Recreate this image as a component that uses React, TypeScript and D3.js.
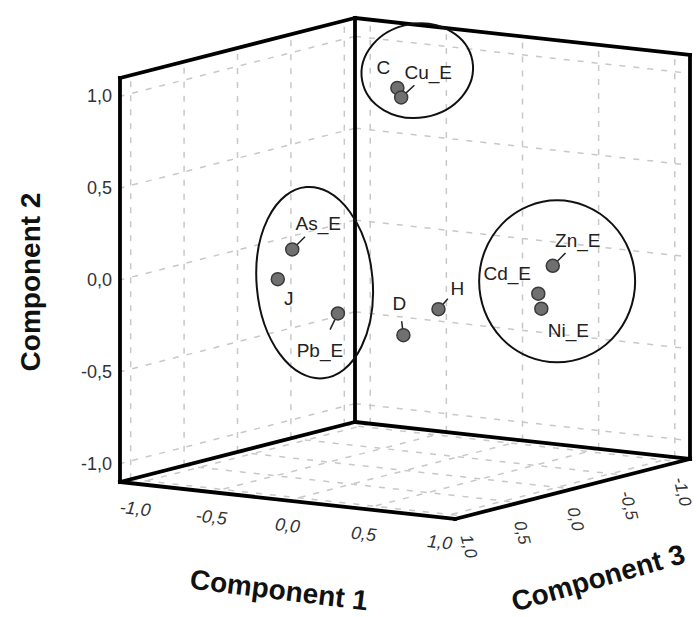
import { useEffect, useRef } from 'react'
import * as d3 from 'd3'

// component loadings
const variables = ['C', 'Cu_E', 'As_E', 'J', 'Pb_E', 'D', 'H', 'Zn_E', 'Cd_E', 'Ni_E']
const comp1 = [0.02, 0.01, -0.53, -0.59, -0.16, 0.20, 0.29, 0.76, 0.70, 0.72]
const comp2 = [1.00, 0.94, 0.10, -0.06, -0.20, -0.30, -0.18, 0.04, -0.11, -0.19]
const comp3 = [0.10, 0.05, 0.30, 0.35, 0.40, 0.30, 0.10, -0.30, -0.25, -0.25]
const tickValues = [-1, -0.5, 0, 0.5, 1]
const clusters = [['C', 'Cu_E'], ['As_E', 'J', 'Pb_E'], ['Zn_E', 'Cd_E', 'Ni_E']]

// label placement (offset of text centre from the marker)
const labelPos = {
  C: { dx: -14, dy: -20, leader: false },
  Cu_E: { dx: 27, dy: -25, leader: true },
  As_E: { dx: 26, dy: -26, leader: true },
  J: { dx: 11, dy: 19, leader: false },
  Pb_E: { dx: -18, dy: 37, leader: true },
  D: { dx: -4, dy: -32, leader: true },
  H: { dx: 19, dy: -21, leader: true },
  Zn_E: { dx: 25, dy: -25, leader: true },
  Cd_E: { dx: -31, dy: -20, leader: false },
  Ni_E: { dx: 27, dy: 22, leader: false },
}
// hand drawn ellipses: shift from cluster centroid, radii, tilt
const ellipseShape = [
  { dx: 18, dy: -22, rx: 56, ry: 47, rot: -10 },
  { dx: 12, dy: 2, rx: 58, ry: 96, rot: -5 },
  { dx: 13, dy: -8, rx: 78, ry: 81, rot: 0 },
]

const fmt = (v: number) => d3.format('.1f')(v).replace('.', ',').replace('−', '-')

export default function App() {
  const svgRef = useRef<SVGSVGElement>(null)

  useEffect(() => {
    if (!svgRef.current) return
    const width = 697
    const height = 617
    const svg = d3.select(svgRef.current)
    svg.selectAll('*').remove()
    svg.attr('width', width).attr('height', height)

    // oblique projection of the cube: back-bottom corner + one vector per axis
    const origin = [355, 422]
    const u1 = [335, 37]
    const u2 = [0, -404]
    const u3 = [-235, 60]
    const lo = -1.1
    const hi = 1.1
    const s = d3.scaleLinear().domain([lo, hi]).range([0, 1])
    const proj = (a: number, b: number, c: number): [number, number] => [
      origin[0] + s(a) * u1[0] + s(b) * u2[0] + s(c) * u3[0],
      origin[1] + s(a) * u1[1] + s(b) * u2[1] + s(c) * u3[1],
    ]
    const line = d3.line()

    const font = '"Liberation Sans", Arial, sans-serif'

    // dashed grid on the three back planes
    const grid = svg.append('g')
      .attr('fill', 'none')
      .attr('stroke', '#c8c8c8')
      .attr('stroke-width', 1.5)
      .attr('stroke-dasharray', '6,8')
    tickValues.forEach(t => {
      // left wall (comp1 = lo)
      grid.append('path').attr('d', line([proj(lo, t, lo), proj(lo, t, hi)]))
      grid.append('path').attr('d', line([proj(lo, lo, t), proj(lo, hi, t)]))
      // right wall (comp3 = lo)
      grid.append('path').attr('d', line([proj(lo, t, lo), proj(hi, t, lo)]))
      grid.append('path').attr('d', line([proj(t, lo, lo), proj(t, hi, lo)]))
      // floor (comp2 = lo)
      grid.append('path').attr('d', line([proj(t, lo, lo), proj(t, lo, hi)]))
      grid.append('path').attr('d', line([proj(lo, lo, t), proj(hi, lo, t)]))
    })

    // box frame
    const edges: [number, number, number][][] = [
      [[lo, lo, hi], [lo, hi, hi]],
      [[lo, lo, lo], [lo, hi, lo]],
      [[hi, lo, lo], [hi, hi, lo]],
      [[lo, hi, hi], [lo, hi, lo]],
      [[lo, hi, lo], [hi, hi, lo]],
      [[lo, lo, hi], [lo, lo, lo]],
      [[lo, lo, lo], [hi, lo, lo]],
      [[lo, lo, hi], [hi, lo, hi]],
      [[hi, lo, hi], [hi, lo, lo]],
    ]
    svg.append('g')
      .selectAll('path')
      .data(edges)
      .join('path')
      .attr('d', d => line(d.map(p => proj(p[0], p[1], p[2]))))
      .attr('fill', 'none')
      .attr('stroke', '#000')
      .attr('stroke-width', 3.8)
      .attr('stroke-linecap', 'square')

    // comp2 tick labels on the left edge
    svg.append('g')
      .selectAll('text')
      .data(tickValues)
      .join('text')
      .attr('x', d => proj(lo, d, hi)[0] - 8)
      .attr('y', d => proj(lo, d, hi)[1])
      .attr('text-anchor', 'end')
      .attr('dominant-baseline', 'central')
      .attr('font-family', font)
      .attr('font-size', 18)
      .attr('fill', '#333')
      .text(d => fmt(d))

    // comp1 tick labels along the front-left floor edge
    const a1 = Math.atan2(u1[1], u1[0]) * 180 / Math.PI
    svg.append('g')
      .selectAll('text')
      .data(tickValues)
      .join('text')
      .attr('transform', d => {
        const p = proj(d, lo, hi)
        return `translate(${p[0]},${p[1] + 25}) rotate(${a1})`
      })
      .attr('text-anchor', 'middle')
      .attr('dominant-baseline', 'central')
      .attr('font-family', font)
      .attr('font-style', 'italic')
      .attr('font-size', 18)
      .attr('fill', '#333')
      .text(d => fmt(d))

    // comp3 tick labels along the front-right floor edge
    svg.append('g')
      .selectAll('text')
      .data(tickValues)
      .join('text')
      .attr('transform', d => {
        const p = proj(hi, lo, d)
        return `translate(${p[0] + 3},${p[1] + 30}) rotate(76)`
      })
      .attr('text-anchor', 'middle')
      .attr('dominant-baseline', 'central')
      .attr('font-family', font)
      .attr('font-style', 'italic')
      .attr('font-size', 17)
      .attr('fill', '#333')
      .text(d => fmt(d))

    // axis titles
    const titles = [
      { text: 'Component 2', x: 30, y: 282, rot: -90 },
      { text: 'Component 1', x: 279, y: 590, rot: 7 },
      { text: 'Component 3', x: 598, y: 578, rot: -16 },
    ]
    svg.append('g')
      .selectAll('text')
      .data(titles)
      .join('text')
      .attr('transform', d => `translate(${d.x},${d.y}) rotate(${d.rot})`)
      .attr('text-anchor', 'middle')
      .attr('dominant-baseline', 'central')
      .attr('font-family', font)
      .attr('font-weight', 'bold')
      .attr('font-size', 28)
      .attr('fill', '#111')
      .text(d => d.text)

    // points
    const pts = variables.map((name, i) => {
      const [x, y] = proj(comp1[i], comp2[i], comp3[i])
      return { name, x, y }
    })
    const byName = new Map(pts.map(p => [p.name, p]))

    // leader lines
    svg.append('g')
      .selectAll('path')
      .data(pts.filter(p => labelPos[p.name].leader))
      .join('path')
      .attr('d', p => {
        const l = labelPos[p.name]
        const len = Math.hypot(l.dx, l.dy)
        const ux = l.dx / len
        const uy = l.dy / len
        const end = len > 35 ? 18 : 14
        return line([[p.x + ux * 6, p.y + uy * 6], [p.x + ux * end, p.y + uy * end]])
      })
      .attr('stroke', '#222')
      .attr('stroke-width', 1.5)

    svg.append('g')
      .selectAll('circle')
      .data(pts)
      .join('circle')
      .attr('cx', p => p.x)
      .attr('cy', p => p.y)
      .attr('r', 6.5)
      .attr('fill', '#707070')
      .attr('stroke', '#3a3a3a')
      .attr('stroke-width', 1.5)

    svg.append('g')
      .selectAll('text')
      .data(pts)
      .join('text')
      .attr('x', p => p.x + labelPos[p.name].dx)
      .attr('y', p => p.y + labelPos[p.name].dy)
      .attr('text-anchor', 'middle')
      .attr('dominant-baseline', 'central')
      .attr('font-family', font)
      .attr('font-size', 19)
      .attr('fill', '#222')
      .text(p => p.name)

    // cluster ellipses
    svg.append('g')
      .selectAll('ellipse')
      .data(clusters)
      .join('ellipse')
      .attr('transform', (members, i) => {
        const cx = d3.mean(members, m => byName.get(m)!.x)! + ellipseShape[i].dx
        const cy = d3.mean(members, m => byName.get(m)!.y)! + ellipseShape[i].dy
        return `translate(${cx},${cy}) rotate(${ellipseShape[i].rot})`
      })
      .attr('rx', (_, i) => ellipseShape[i].rx)
      .attr('ry', (_, i) => ellipseShape[i].ry)
      .attr('fill', 'none')
      .attr('stroke', '#111')
      .attr('stroke-width', 2)
  }, [])

  return (
    <svg ref={svgRef} style={{ position: 'absolute', left: 0, top: 0, display: 'block', background: '#fff' }} />
  )
}
